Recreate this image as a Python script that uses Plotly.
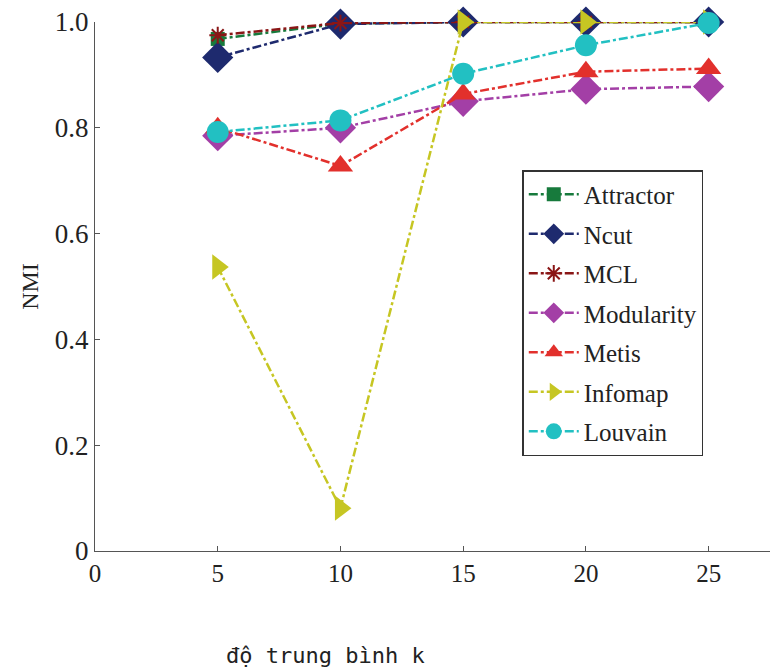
import plotly.graph_objects as go

k = [5, 10, 15, 20, 25]
names = ["Attractor", "Ncut", "MCL", "Modularity", "Metis", "Infomap", "Louvain"]
attractor = [0.968, 0.997, 1.0, 1.0, 1.0]
ncut = [0.933, 0.996, 1.0, 1.0, 1.0]
mcl = [0.975, 0.998, 1.0, 1.0, 1.0]
modularity = [0.785, 0.800, 0.850, 0.873, 0.878]
metis = [0.800, 0.728, 0.864, 0.906, 0.912]
infomap = [0.537, 0.081, 1.0, 1.0, 1.0]
louvain = [0.792, 0.814, 0.902, 0.956, 0.998]

series = [attractor, ncut, mcl, modularity, metis, infomap, louvain]
colors = ["#177a3c", "#1e2a6e", "#8a1616", "#a33fa6", "#e2302c", "#c6c623", "#22c0c2"]
symbols = ["square", "diamond", "asterisk", "diamond", "triangle-up", "triangle-right", "circle"]
sizes = [14, 24, 14, 24, 22, 22, 22]

SERIF = "Liberation Serif, Times New Roman, Times, serif"

fig = go.Figure()
for i, (n, v) in enumerate(zip(names, series)):
    mk = dict(symbol=symbols[i], size=sizes[i], color=colors[i])
    if symbols[i] == "asterisk":
        mk["line"] = dict(color=colors[i], width=2)
    else:
        mk["line"] = dict(width=0)
    fig.add_trace(go.Scatter(
        x=k, y=v, name=n, mode="lines+markers",
        line=dict(color=colors[i], width=2.5, dash="dashdot"),
        marker=mk, legendgroup=n,
    ))

fig.update_layout(
    width=771, height=670,
    margin=dict(l=95, r=1, t=22, b=119),
    plot_bgcolor="white", paper_bgcolor="white",
    font=dict(family=SERIF, size=24, color="#222"),
    showlegend=True,
    legend=dict(
        x=0.633, y=0.72, xanchor="left", yanchor="top",
        bgcolor="white", bordercolor="#333", borderwidth=1.5,
        font=dict(family=SERIF, size=25, color="#222"),
        tracegroupgap=4, itemwidth=50,
    ),
    xaxis=dict(
        range=[0, 27.5], tickvals=[0, 5, 10, 15, 20, 25],
        ticks="inside", ticklen=5, tickcolor="#555",
        showline=True, linecolor="#555", linewidth=1.2,
        showgrid=False, zeroline=False, mirror=False,
        tickfont=dict(family=SERIF, size=25, color="#222"),
    ),
    yaxis=dict(
        range=[0, 1.0], tickvals=[0, 0.2, 0.4, 0.6, 0.8, 1.0],
        ticktext=["0", "0.2", "0.4", "0.6", "0.8", "1.0"],
        ticks="inside", ticklen=5, tickcolor="#555",
        showline=True, linecolor="#555", linewidth=1.2,
        showgrid=False, zeroline=False, mirror=False,
        tickfont=dict(family=SERIF, size=27, color="#222"),
        title=dict(text="NMI", font=dict(family=SERIF, size=24, color="#222"), standoff=9),
    ),
)
px0, pw = 95, 675
py0, ph = 551, 529
fig.add_annotation(
    text="độ trung bình k", x=(325 - px0) / pw, y=(py0 - 655) / ph,
    xref="paper", yref="paper", xanchor="center", yanchor="middle",
    showarrow=False,
    font=dict(family="DejaVu Sans Mono", size=22, color="#222"),
)

fig.update_traces(cliponaxis=False)
fig.write_html("out.html")
